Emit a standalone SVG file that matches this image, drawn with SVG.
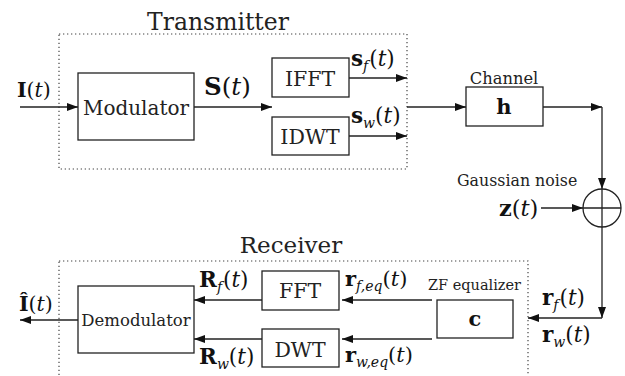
<svg xmlns="http://www.w3.org/2000/svg" width="625" height="376" viewBox="0 0 625 376">
<style>
.box{fill:#fff;stroke:#222;stroke-width:1.3}
.dot{fill:none;stroke:#444;stroke-width:1.2;stroke-dasharray:1.3 2.7}
.ln{fill:none;stroke:#222;stroke-width:1.3}
text{font-family:'DejaVu Serif','Liberation Serif',serif;fill:#111}
text.w{fill:#222}
.c{text-anchor:middle}
.b{font-weight:bold}
.i{font-style:italic}
.s{font-size:14px;font-style:italic}
</style>
<defs>
<marker id="ah" markerWidth="11" markerHeight="8" refX="11" refY="4" orient="auto" markerUnits="userSpaceOnUse">
<path d="M0,0 L11,4 L0,8 Z" fill="#111"/>
</marker>
</defs>
<rect width="625" height="376" fill="#fff"/>

<g id="transmitter-frame">
<rect class="dot" x="59" y="34" width="348" height="135"/>
<text class="w c" x="218" y="30" font-size="23.5">Transmitter</text>
</g>
<g id="receiver-frame">
<rect class="dot" x="59" y="261" width="469" height="130"/>
<text class="w c" x="291" y="253" font-size="23">Receiver</text>
</g>

<g id="connectors">
<path class="ln" d="M20,107 H78" marker-end="url(#ah)"/>
<path class="ln" d="M194,107 H272" marker-end="url(#ah)"/>
<path class="ln" d="M349,78 H407" marker-end="url(#ah)"/>
<path class="ln" d="M349,136 H407" marker-end="url(#ah)"/>
<path class="ln" d="M407,107 H466" marker-end="url(#ah)"/>
<path class="ln" d="M543,107 H602" marker-end="url(#ah)"/>
<path class="ln" d="M602,107 V189" marker-end="url(#ah)"/>
<path class="ln" d="M541,208 H583" marker-end="url(#ah)"/>
<path class="ln" d="M602,227 V318" marker-end="url(#ah)"/>
<path class="ln" d="M602,318 H528" marker-end="url(#ah)"/>
<path class="ln" d="M432,300 H342" marker-end="url(#ah)"/>
<path class="ln" d="M432,339 H342" marker-end="url(#ah)"/>
<path class="ln" d="M262,300 H194" marker-end="url(#ah)"/>
<path class="ln" d="M262,339 H194" marker-end="url(#ah)"/>
<path class="ln" d="M78,320 H20" marker-end="url(#ah)"/>
</g>

<g id="labels">
<text x="17" y="97" font-size="20.5"><tspan class="b">I</tspan>(<tspan class="i">t</tspan>)</text>
<text x="204" y="95" font-size="24.5"><tspan class="b">S</tspan>(<tspan class="i">t</tspan>)</text>
<text x="351" y="66" font-size="21.5"><tspan class="b">s</tspan><tspan class="s" dy="5">f</tspan><tspan dy="-5" dx="1">(</tspan><tspan class="i">t</tspan>)</text>
<text x="351" y="123" font-size="21.5"><tspan class="b">s</tspan><tspan class="s" dy="5">w</tspan><tspan dy="-5">(</tspan><tspan class="i">t</tspan>)</text>
<text class="w c" x="504" y="84" font-size="16.3">Channel</text>
<text class="w" x="457" y="186" font-size="15.8">Gaussian noise</text>
<text x="499" y="216" font-size="22.5"><tspan class="b">z</tspan>(<tspan class="i">t</tspan>)</text>
<text x="542" y="305" font-size="21.5"><tspan class="b">r</tspan><tspan class="s" dy="5">f</tspan><tspan dy="-5" dx="1">(</tspan><tspan class="i">t</tspan>)</text>
<text x="542" y="342" font-size="21.5"><tspan class="b">r</tspan><tspan class="s" dy="5">w</tspan><tspan dy="-5">(</tspan><tspan class="i">t</tspan>)</text>
<text class="w" x="428" y="290" font-size="14.5">ZF equalizer</text>
<text x="345" y="286" font-size="21"><tspan class="b">r</tspan><tspan class="s" dy="5">f,eq</tspan><tspan dy="-5">(</tspan><tspan class="i">t</tspan>)</text>
<text x="345" y="362" font-size="21"><tspan class="b">r</tspan><tspan class="s" dy="5">w,eq</tspan><tspan dy="-5">(</tspan><tspan class="i">t</tspan>)</text>
<text x="199" y="287" font-size="21.5"><tspan class="b">R</tspan><tspan class="s" dy="5">f</tspan><tspan dy="-5" dx="1">(</tspan><tspan class="i">t</tspan>)</text>
<text x="199" y="364" font-size="21.5"><tspan class="b">R</tspan><tspan class="s" dy="5">w</tspan><tspan dy="-5">(</tspan><tspan class="i">t</tspan>)</text>
<text x="19" y="311" font-size="20.5"><tspan class="b">Î</tspan>(<tspan class="i">t</tspan>)</text>
</g>

<g id="modulator">
<rect class="box" x="78" y="73" width="116" height="67"/>
<text class="w c" x="136" y="115" font-size="20">Modulator</text>
</g>
<g id="ifft">
<rect class="box" x="272" y="58" width="77" height="39"/>
<text class="w c" x="310" y="86" font-size="20.5">IFFT</text>
</g>
<g id="idwt">
<rect class="box" x="272" y="117" width="77" height="38"/>
<text class="w c" x="310" y="144" font-size="20.5">IDWT</text>
</g>
<g id="channel">
<rect class="box" x="466" y="87" width="77" height="39"/>
<text class="c b" x="504" y="114" font-size="21">h</text>
</g>
<g id="adder">
<circle cx="602" cy="208" r="19" fill="#fff" stroke="#222" stroke-width="1.3"/>
<path class="ln" d="M583,208 H621 M602,189 V227"/>
</g>
<g id="equalizer">
<rect class="box" x="437" y="300" width="76" height="38"/>
<text class="c b" x="475" y="326" font-size="21">c</text>
</g>
<g id="fft">
<rect class="box" x="262" y="271" width="77" height="39"/>
<text class="w c" x="300" y="298" font-size="20.5">FFT</text>
</g>
<g id="dwt">
<rect class="box" x="262" y="329" width="77" height="38"/>
<text class="w c" x="300" y="357" font-size="20.5">DWT</text>
</g>
<g id="demodulator">
<rect class="box" x="78" y="286" width="116" height="67"/>
<text class="w c" x="136" y="326" font-size="16.5">Demodulator</text>
</g>
</svg>
